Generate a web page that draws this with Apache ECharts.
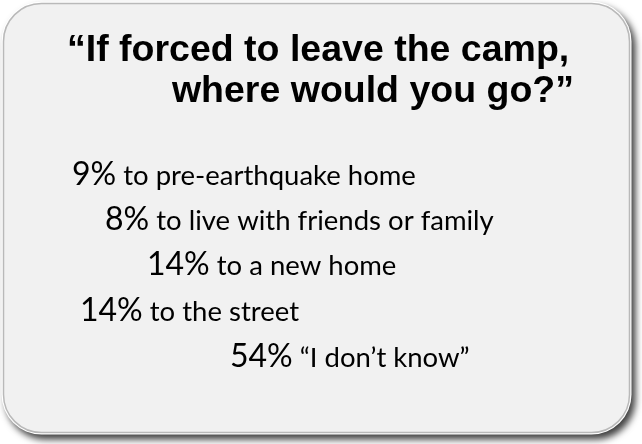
<!DOCTYPE html>
<html>
<head>
<meta charset="utf-8">
<script src="https://cdn.jsdelivr.net/npm/echarts@6/dist/echarts.min.js"></script>
<style>
html,body{margin:0;padding:0;background:#ffffff;}
#chart{width:642px;height:444px;}
</style>
</head>
<body>
<div id="chart"></div>
<script>
// ---- data ----
var titleLines = ['\u201cIf forced to leave the camp,', 'where would you go?\u201d'];
var percents = [9, 8, 14, 14, 54];
var answers = ['to pre-earthquake home', 'to live with friends or family', 'to a new home', 'to the street', '\u201cI don\u2019t know\u201d'];

// ---- layout (positions only) ----
var lineLeft = [72, 105, 147, 80, 230];
var lineBottom = [191, 236, 281, 327, 373];
var titleX = [67, 574];
var titleAlign = ['left', 'right'];
var titleBottom = [70, 111];

var chart = echarts.init(document.getElementById('chart'), null, {renderer: 'canvas'});

var elements = [];
// shadow / bevel frame
elements.push({
  type: 'rect',
  shape: {x: 1.5, y: 1.5, width: 630, height: 433, r: 40},
  style: {fill: '#ffffff', shadowBlur: 7, shadowOffsetX: 4, shadowOffsetY: 5, shadowColor: 'rgba(0,0,0,0.75)'},
  z: 1
});
elements.push({
  type: 'rect',
  shape: {x: 3.5, y: 3.5, width: 626, height: 429, r: 38},
  style: {fill: '#f1f1f1', stroke: '#b9b9b9', lineWidth: 1.5},
  z: 2
});
titleLines.forEach(function (t, i) {
  elements.push({
    type: 'text',
    x: titleX[i], y: titleBottom[i],
    style: {
      text: t,
      fill: '#000000',
      font: 'bold 37.5px "Liberation Sans", Arial, sans-serif',
      align: titleAlign[i],
      verticalAlign: 'bottom'
    },
    z: 3
  });
});
percents.forEach(function (p, i) {
  elements.push({
    type: 'text',
    x: lineLeft[i], y: lineBottom[i],
    style: {
      text: '{p|' + p + '%}{a| ' + answers[i] + '}',
      align: 'left',
      verticalAlign: 'bottom',
      rich: {
        p: {fontFamily: 'Lato', fontSize: 32, color: '#000000', verticalAlign: 'bottom'},
        a: {fontFamily: 'Lato', fontSize: 27.5, color: '#000000', verticalAlign: 'bottom', padding: [0, 0, 1, 0]}
      }
    },
    z: 3
  });
});

chart.setOption({
  backgroundColor: '#ffffff',
  animation: false,
  graphic: {elements: elements}
});
</script>
</body>
</html>
